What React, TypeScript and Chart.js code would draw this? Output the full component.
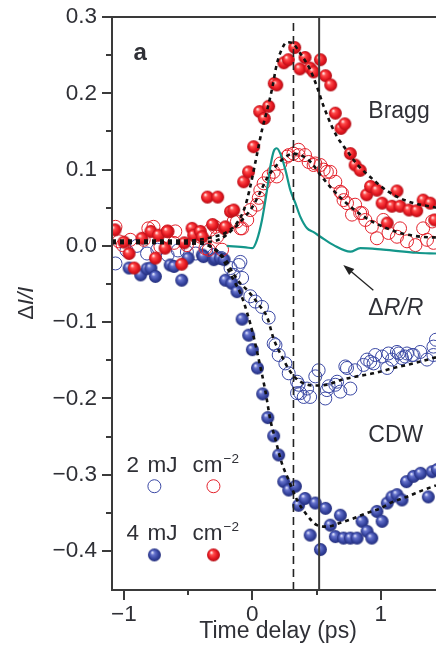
import { useEffect, useRef } from 'react';
import { Chart, registerables } from 'chart.js';

Chart.register(...registerables);

type P = [number, number];

// Bragg peak, 4 mJ cm^-2 (filled red)
const braggHigh: P[] = [
  [-1.07, 0.021], [-1.0, 0.005], [-0.96, -0.01], [-0.92, -0.029], [-0.86, 0.01], [-0.79, 0.019],
  [-0.755, -0.016], [-0.73, 0.014], [-0.68, -0.003], [-0.66, 0.019], [-0.55, -0.024], [-0.53, 0.004],
  [-0.47, 0.023], [-0.457, 0.014], [-0.405, 0.019], [-0.39, 0.012], [-0.35, 0.064], [-0.31, 0.028],
  [-0.27, 0.064], [-0.22, 0.023], [-0.21, 0.025], [-0.17, 0.045], [-0.145, 0.047], [-0.068, 0.084],
  [-0.03, 0.097], [0.01, 0.13], [0.057, 0.176], [0.093, 0.167], [0.127, 0.183], [0.17, 0.213],
  [0.19, 0.211], [0.245, 0.24], [0.28, 0.244], [0.33, 0.26], [0.37, 0.232], [0.41, 0.247],
  [0.45, 0.233], [0.477, 0.228], [0.53, 0.244], [0.57, 0.223], [0.61, 0.211], [0.646, 0.174],
  [0.69, 0.154], [0.72, 0.16], [0.763, 0.121], [0.8, 0.106], [0.84, 0.099], [0.89, 0.067],
  [0.92, 0.078], [0.97, 0.073], [1.01, 0.056], [1.05, 0.03], [1.087, 0.052], [1.126, 0.072],
  [1.15, 0.052], [1.22, 0.047], [1.28, 0.046], [1.33, 0.06], [1.385, 0.056], [1.42, 0.034],
];

// Bragg peak, 2 mJ cm^-2 (open red)
const braggLow: P[] = [
  [-1.066, 0.025], [-1.04, 0.006], [-1.01, 0.001], [-0.95, 0.008], [-0.846, 0.008], [-0.81, 0.023],
  [-0.77, 0.025], [-0.716, -0.001], [-0.66, 0.019], [-0.61, 0.004], [-0.6, 0.019], [-0.51, 0.001],
  [-0.405, 0.012], [-0.366, -0.003], [-0.34, -0.005], [-0.327, 0.021], [-0.29, 0.025], [-0.275, 0.012],
  [-0.236, -0.005], [-0.146, 0.032], [-0.12, 0.032], [-0.093, 0.023], [-0.08, 0.023], [-0.04, 0.034],
  [-0.016, 0.047], [0.036, 0.054], [0.05, 0.063], [0.062, 0.073], [0.088, 0.082], [0.127, 0.091],
  [0.166, 0.097], [0.19, 0.091], [0.218, 0.108], [0.27, 0.117], [0.283, 0.119], [0.32, 0.121],
  [0.36, 0.126], [0.36, 0.119], [0.41, 0.119], [0.438, 0.11], [0.477, 0.106], [0.49, 0.108],
  [0.53, 0.106], [0.555, 0.1], [0.58, 0.097], [0.607, 0.097], [0.646, 0.084], [0.685, 0.071],
  [0.698, 0.069], [0.71, 0.06], [0.737, 0.056], [0.776, 0.041], [0.8, 0.054], [0.84, 0.043],
  [0.854, 0.043], [0.88, 0.034], [0.93, 0.025], [0.97, 0.01], [1.02, 0.034], [1.06, 0.017],
  [1.126, 0.012], [1.15, 0.023], [1.204, 0.006], [1.27, 0.001], [1.33, 0.023], [1.36, 0.008],
  [1.4, 0.032], [1.41, 0.004],
];

// CDW peak, 4 mJ cm^-2 (filled blue)
const cdwHigh: P[] = [
  [-0.96, -0.029], [-0.87, -0.038], [-0.82, -0.03], [-0.79, -0.029], [-0.755, -0.04], [-0.64, -0.025],
  [-0.61, -0.027], [-0.55, -0.045], [-0.5, -0.016], [-0.39, -0.012], [-0.38, -0.014], [-0.3, -0.018],
  [-0.29, -0.016], [-0.25, -0.016], [-0.22, -0.018], [-0.21, -0.045], [-0.16, -0.049], [-0.12, -0.06],
  [-0.08, -0.096], [-0.029, -0.117], [0.0, -0.136], [0.04, -0.16], [0.08, -0.194], [0.12, -0.225],
  [0.166, -0.249], [0.205, -0.274], [0.244, -0.309], [0.283, -0.32], [0.335, -0.315], [0.36, -0.34],
  [0.41, -0.331], [0.45, -0.379], [0.49, -0.337], [0.53, -0.398], [0.57, -0.344], [0.607, -0.366],
  [0.646, -0.381], [0.685, -0.353], [0.71, -0.383], [0.763, -0.383], [0.815, -0.383], [0.854, -0.361],
  [0.893, -0.374], [0.93, -0.383], [0.97, -0.348], [1.01, -0.361], [1.05, -0.337], [1.087, -0.329],
  [1.126, -0.326], [1.165, -0.333], [1.2, -0.309], [1.255, -0.302], [1.31, -0.298], [1.37, -0.329],
  [1.4, -0.296], [1.44, -0.293],
];

// CDW peak, 2 mJ cm^-2 (open blue)
const cdwLow: P[] = [
  [-1.066, -0.023], [-0.98, -0.006], [-0.9, 0.0], [-0.82, -0.01], [-0.74, -0.005], [-0.66, -0.012],
  [-0.58, -0.006], [-0.51, -0.008], [-0.44, -0.01], [-0.36, -0.006], [-0.3, -0.012], [-0.24, -0.016],
  [-0.17, -0.029], [-0.146, -0.038], [-0.107, -0.025], [-0.093, -0.021], [-0.08, -0.042], [-0.016, -0.066],
  [0.023, -0.073], [0.075, -0.08], [0.127, -0.094], [0.166, -0.128], [0.18, -0.13], [0.205, -0.143],
  [0.257, -0.154], [0.283, -0.167], [0.348, -0.178], [0.348, -0.193], [0.36, -0.182], [0.373, -0.193],
  [0.4, -0.198], [0.426, -0.187], [0.45, -0.198], [0.49, -0.171], [0.516, -0.163], [0.568, -0.2],
  [0.58, -0.189], [0.594, -0.184], [0.646, -0.182], [0.66, -0.178], [0.685, -0.191], [0.724, -0.158],
  [0.737, -0.16], [0.763, -0.187], [0.8, -0.163], [0.866, -0.156], [0.893, -0.149], [0.918, -0.152],
  [0.944, -0.154], [0.957, -0.143], [1.01, -0.145], [1.05, -0.16], [1.06, -0.141], [1.087, -0.149],
  [1.126, -0.139], [1.14, -0.141], [1.165, -0.147], [1.19, -0.145], [1.204, -0.141], [1.243, -0.143],
  [1.255, -0.143], [1.307, -0.139], [1.36, -0.149], [1.41, -0.143], [1.41, -0.132], [1.43, -0.123],
];

// Fits (dashed black)
const braggHighFit: P[] = [
  [-1.093, 0.007], [-0.5, 0.007], [-0.3, 0.012], [-0.2, 0.018], [-0.12, 0.03], [-0.06, 0.05],
  [-0.02, 0.075], [0.03, 0.115], [0.075, 0.152], [0.115, 0.178], [0.155, 0.207], [0.19, 0.238],
  [0.23, 0.258], [0.27, 0.267], [0.31, 0.266], [0.37, 0.253], [0.45, 0.231], [0.5, 0.21],
  [0.555, 0.183], [0.61, 0.16], [0.66, 0.143], [0.74, 0.124], [0.82, 0.106], [0.92, 0.09],
  [1.05, 0.072], [1.2, 0.059], [1.43, 0.05],
];
const braggLowFit: P[] = [
  [-1.093, 0.005], [-0.4, 0.005], [-0.25, 0.009], [-0.15, 0.022], [-0.08, 0.034], [0.0, 0.051],
  [0.06, 0.07], [0.115, 0.089], [0.18, 0.104], [0.245, 0.115], [0.32, 0.121], [0.4, 0.117],
  [0.465, 0.108], [0.53, 0.093], [0.63, 0.073], [0.76, 0.052], [0.89, 0.036], [1.02, 0.025],
  [1.15, 0.017], [1.31, 0.012], [1.43, 0.011],
];
const cdwHighFit: P[] = [
  [-1.093, 0.004], [-0.4, 0.003], [-0.3, -0.003], [-0.24, -0.014], [-0.2, -0.027], [-0.146, -0.045],
  [-0.093, -0.062], [-0.04, -0.088], [0.01, -0.119], [0.05, -0.149], [0.1, -0.189], [0.14, -0.228],
  [0.18, -0.254], [0.23, -0.285], [0.283, -0.307], [0.348, -0.333], [0.426, -0.353], [0.503, -0.366],
  [0.58, -0.368], [0.685, -0.363], [0.79, -0.357], [0.893, -0.35], [0.996, -0.344], [1.1, -0.335],
  [1.2, -0.329], [1.33, -0.32], [1.43, -0.314],
];
const cdwLowFit: P[] = [
  [-1.093, 0.004], [-0.4, 0.003], [-0.3, -0.004], [-0.2, -0.02], [-0.16, -0.033], [-0.1, -0.048],
  [-0.04, -0.058], [0.05, -0.077], [0.114, -0.093], [0.166, -0.122], [0.23, -0.145], [0.296, -0.165],
  [0.374, -0.178], [0.477, -0.183], [0.58, -0.182], [0.685, -0.176], [0.815, -0.171], [0.944, -0.167],
  [1.1, -0.16], [1.255, -0.154], [1.43, -0.146],
];

// Optical reflectivity ΔR/R (teal)
const reflectivity: P[] = [
  [-0.2, 0.0], [-0.05, -0.002], [0.0, -0.003], [0.036, 0.008], [0.075, 0.034], [0.114, 0.073],
  [0.14, 0.104], [0.166, 0.124], [0.19, 0.128], [0.218, 0.121], [0.257, 0.1], [0.296, 0.073],
  [0.335, 0.056], [0.374, 0.038], [0.426, 0.023], [0.477, 0.018], [0.53, 0.012], [0.633, 0.001],
  [0.763, -0.0075], [0.84, -0.003], [1.02, -0.005], [1.28, -0.009], [1.43, -0.01],
];

const dashedMarkerTime = 0.32;
const solidMarkerTime = 0.52;

const xTickValues = [-1, -0.5, 0, 0.5, 1];
const xTickLabels = ['\u22121', '', '0', '', '1'];
const yTickValues = [0.3, 0.25, 0.2, 0.15, 0.1, 0.05, 0, -0.05, -0.1, -0.15, -0.2, -0.25, -0.3, -0.35, -0.4];
const yTickLabels = ['0.3', '', '0.2', '', '0.1', '', '0.0', '', '\u22120.1', '', '\u22120.2', '', '\u22120.3', '', '\u22120.4'];

const X_MIN = -1.093;
const X_MAX = 1.43;
const Y_MIN = -0.451;
const Y_MAX = 0.3;

const FONT = '"Liberation Sans", Arial, Helvetica, sans-serif';
const INK = '#2f3036';
const AXIS = '#3a3a3a';
const RED = '#e3212b';
const BLUE = '#3a48a4';
const TEAL = '#13968a';

function sphere(stops: [number, string][], r: number): HTMLCanvasElement {
  const c = document.createElement('canvas');
  const s = Math.ceil(r * 2 + 2);
  c.width = s;
  c.height = s;
  const g = c.getContext('2d')!;
  const cx = s / 2;
  const cy = s / 2;
  const grad = g.createRadialGradient(cx - r * 0.35, cy - r * 0.4, r * 0.05, cx, cy, r);
  stops.forEach(([o, col]) => grad.addColorStop(o, col));
  g.fillStyle = grad;
  g.beginPath();
  g.arc(cx, cy, r, 0, Math.PI * 2);
  g.fill();
  return c;
}

const toXY = (arr: P[]) => arr.map(([x, y]) => ({ x, y }));

type Seg = { t: string; f: string; dy?: number };
function drawRich(ctx: CanvasRenderingContext2D, x: number, y: number, segs: Seg[], align: 'left' | 'center' = 'left') {
  let total = 0;
  for (const s of segs) {
    ctx.font = s.f;
    total += ctx.measureText(s.t).width;
  }
  let cx = align === 'center' ? x - total / 2 : x;
  ctx.textAlign = 'left';
  ctx.textBaseline = 'alphabetic';
  for (const s of segs) {
    ctx.font = s.f;
    ctx.fillText(s.t, cx, y + (s.dy || 0));
    cx += ctx.measureText(s.t).width;
  }
}

export default function App() {
  const ref = useRef<HTMLCanvasElement>(null);

  useEffect(() => {
    const canvas = ref.current!;
    const R = 6.5;
    const redBall = sphere([[0, '#fff2f0'], [0.28, '#ff4b4b'], [0.7, '#e3161f'], [1, '#b01018']], R);
    const blueBall = sphere([[0, '#e6e9ff'], [0.28, '#6572cc'], [0.7, '#36449f'], [1, '#222c7a']], R);

    const overlay = {
      id: 'overlay',
      afterDraw(chart: any) {
        const { ctx, chartArea, scales } = chart;
        const x = scales.x;
        const y = scales.y;
        const { left, right, top, bottom } = chartArea;
        const px = (v: number) => x.getPixelForValue(v);
        const py = (v: number) => y.getPixelForValue(v);
        ctx.save();
        // frame
        ctx.strokeStyle = AXIS;
        ctx.lineWidth = 2;
        ctx.beginPath();
        ctx.moveTo(left - 10, top);
        ctx.lineTo(right, top);
        ctx.moveTo(left, top - 1);
        ctx.lineTo(left, bottom + 1);
        ctx.moveTo(left - 1, bottom);
        ctx.lineTo(right, bottom);
        ctx.stroke();
        // ticks
        ctx.beginPath();
        yTickValues.forEach((v, i) => {
          const len = yTickLabels[i] ? 10 : 6;
          const yy = Math.round(py(v));
          ctx.moveTo(left - len, yy);
          ctx.lineTo(left, yy);
        });
        xTickValues.forEach((v, i) => {
          const len = xTickLabels[i] ? 10 : 5;
          const xx = Math.round(px(v));
          ctx.moveTo(xx, bottom);
          ctx.lineTo(xx, bottom + len);
        });
        ctx.stroke();

        ctx.fillStyle = INK;
        // axis titles
        drawRich(ctx, 278, bottom + 48, [{ t: 'Time delay (ps)', f: `23px ${FONT}` }], 'center');
        ctx.save();
        ctx.translate(25.5, py(-0.075));
        ctx.rotate(-Math.PI / 2);
        drawRich(ctx, 0, 7.5, [
          { t: '\u0394', f: `22px ${FONT}` },
          { t: 'I/I', f: `italic 22px ${FONT}` },
        ], 'center');
        ctx.restore();

        // panel label and annotations
        drawRich(ctx, px(-0.926), py(0.244), [{ t: 'a', f: `bold 24px ${FONT}` }]);
        drawRich(ctx, px(0.903), py(0.168), [{ t: 'Bragg', f: `23px ${FONT}` }]);
        drawRich(ctx, px(0.903), py(-0.257), [{ t: 'CDW', f: `23px ${FONT}` }]);
        drawRich(ctx, px(0.903), py(-0.09), [
          { t: '\u0394', f: `23px ${FONT}` },
          { t: 'R/R', f: `italic 23px ${FONT}` },
        ]);
        // arrow
        const ax0 = px(0.942), ay0 = py(-0.058);
        const ax1 = px(0.708), ay1 = py(-0.025);
        const ang = Math.atan2(ay1 - ay0, ax1 - ax0);
        ctx.strokeStyle = '#222';
        ctx.lineWidth = 1.3;
        ctx.beginPath();
        ctx.moveTo(ax0, ay0);
        ctx.lineTo(ax1 - Math.cos(ang) * 6, ay1 - Math.sin(ang) * 6);
        ctx.stroke();
        ctx.fillStyle = '#222';
        ctx.beginPath();
        ctx.moveTo(ax1, ay1);
        ctx.lineTo(ax1 - Math.cos(ang) * 11 + Math.sin(ang) * 4, ay1 - Math.sin(ang) * 11 - Math.cos(ang) * 4);
        ctx.lineTo(ax1 - Math.cos(ang) * 11 - Math.sin(ang) * 4, ay1 - Math.sin(ang) * 11 + Math.cos(ang) * 4);
        ctx.closePath();
        ctx.fill();

        // fluence legend
        ctx.fillStyle = INK;
        const legendRows: [string, number, number][] = [['2', -0.296, -0.315], ['4', -0.385, -0.405]];
        legendRows.forEach(([n, ty, my], idx) => {
          const bx = px(-0.98);
          const by = py(ty);
          ctx.font = `22.5px ${FONT}`;
          ctx.textAlign = 'left';
          ctx.textBaseline = 'alphabetic';
          ctx.fillText(n, bx, by);
          ctx.fillText('mJ', bx + 21, by);
          ctx.fillText('cm', bx + 66, by);
          ctx.font = `13.5px ${FONT}`;
          ctx.fillText('\u22122', bx + 97, by - 9);
          const m1x = px(-0.763);
          const m2x = px(-0.303);
          const myy = py(my);
          if (idx === 0) {
            ctx.lineWidth = 1;
            ctx.strokeStyle = BLUE;
            ctx.beginPath();
            ctx.arc(m1x, myy, R, 0, Math.PI * 2);
            ctx.stroke();
            ctx.strokeStyle = RED;
            ctx.beginPath();
            ctx.arc(m2x, myy, R, 0, Math.PI * 2);
            ctx.stroke();
          } else {
            ctx.drawImage(blueBall, m1x - blueBall.width / 2, myy - blueBall.height / 2);
            ctx.drawImage(redBall, m2x - redBall.width / 2, myy - redBall.height / 2);
          }
        });
        ctx.restore();
      },
    };

    const fitStyle = {
      showLine: true,
      pointRadius: 0,
      borderColor: '#111',
      borderWidth: 2.6,
      borderDash: [4, 4],
      cubicInterpolationMode: 'monotone',
      fill: false,
    };

    const chart = new Chart(canvas, {
      type: 'scatter',
      data: {
        datasets: [
          { ...fitStyle, data: toXY(braggHighFit), order: 1 } as any,
          { ...fitStyle, data: toXY(braggLowFit), order: 1 } as any,
          { ...fitStyle, data: toXY(cdwHighFit), order: 1 } as any,
          { ...fitStyle, data: toXY(cdwLowFit), order: 1 } as any,
          {
            data: [{ x: dashedMarkerTime, y: Y_MIN }, { x: dashedMarkerTime, y: Y_MAX }],
            showLine: true, pointRadius: 0, borderColor: '#222', borderWidth: 1.6, borderDash: [8, 5], order: 2,
          },
          {
            data: [{ x: solidMarkerTime, y: Y_MIN }, { x: solidMarkerTime, y: Y_MAX }],
            showLine: true, pointRadius: 0, borderColor: '#3a3a3a', borderWidth: 2, order: 2,
          },
          {
            data: toXY(reflectivity), showLine: true, pointRadius: 0, borderColor: TEAL, borderWidth: 2.2,
            cubicInterpolationMode: 'monotone', order: 3,
          } as any,
          { data: toXY(braggHigh), pointStyle: redBall, pointRadius: R, order: 4 } as any,
          {
            data: toXY(braggLow), pointStyle: 'circle', pointRadius: R, borderWidth: 1,
            borderColor: RED, backgroundColor: 'rgba(255,255,255,0)', order: 5,
          },
          { data: toXY(cdwHigh), pointStyle: blueBall, pointRadius: R, order: 6 } as any,
          {
            data: toXY(cdwLow), pointStyle: 'circle', pointRadius: R, borderWidth: 1,
            borderColor: BLUE, backgroundColor: 'rgba(255,255,255,0)', order: 7,
          },
        ],
      },
      options: {
        animation: false,
        responsive: false,
        devicePixelRatio: 1,
        events: [],
        layout: { autoPadding: false, padding: { top: 17, left: 0, right: 0, bottom: 0 } },
        plugins: { legend: { display: false }, tooltip: { enabled: false } },
        scales: {
          x: {
            type: 'linear',
            min: X_MIN,
            max: X_MAX,
            grid: { display: false, drawTicks: false },
            border: { display: false },
            afterBuildTicks: (s: any) => {
              s.ticks = xTickValues.map((v) => ({ value: v }));
            },
            afterFit: (s: any) => {
              s.height = 58;
              s.paddingLeft = 0;
              s.paddingRight = 0;
              s.paddingTop = 0;
              s.paddingBottom = 0;
            },
            ticks: {
              autoSkip: false,
              maxRotation: 0,
              padding: 11,
              color: INK,
              font: { family: FONT, size: 22.5 },
              callback: (_v: any, i: number) => xTickLabels[i],
            },
          },
          y: {
            type: 'linear',
            min: Y_MIN,
            max: Y_MAX,
            grid: { display: false, drawTicks: false },
            border: { display: false },
            afterBuildTicks: (s: any) => {
              s.ticks = yTickValues.map((v) => ({ value: v }));
            },
            afterFit: (s: any) => {
              s.width = 112;
              s.paddingLeft = 0;
              s.paddingRight = 0;
              s.paddingTop = 0;
              s.paddingBottom = 0;
            },
            ticks: {
              autoSkip: false,
              padding: 15,
              color: INK,
              font: { family: FONT, size: 22.5 },
              callback: (_v: any, i: number) => yTickLabels[i],
            },
          },
        },
      } as any,
      plugins: [overlay],
    });

    return () => chart.destroy();
  }, []);

  return (
    <div style={{ position: 'fixed', left: 0, top: 0, width: 436, height: 648, background: '#fff', overflow: 'hidden' }}>
      <canvas ref={ref} width={436} height={648} style={{ display: 'block' }} />
    </div>
  );
}
